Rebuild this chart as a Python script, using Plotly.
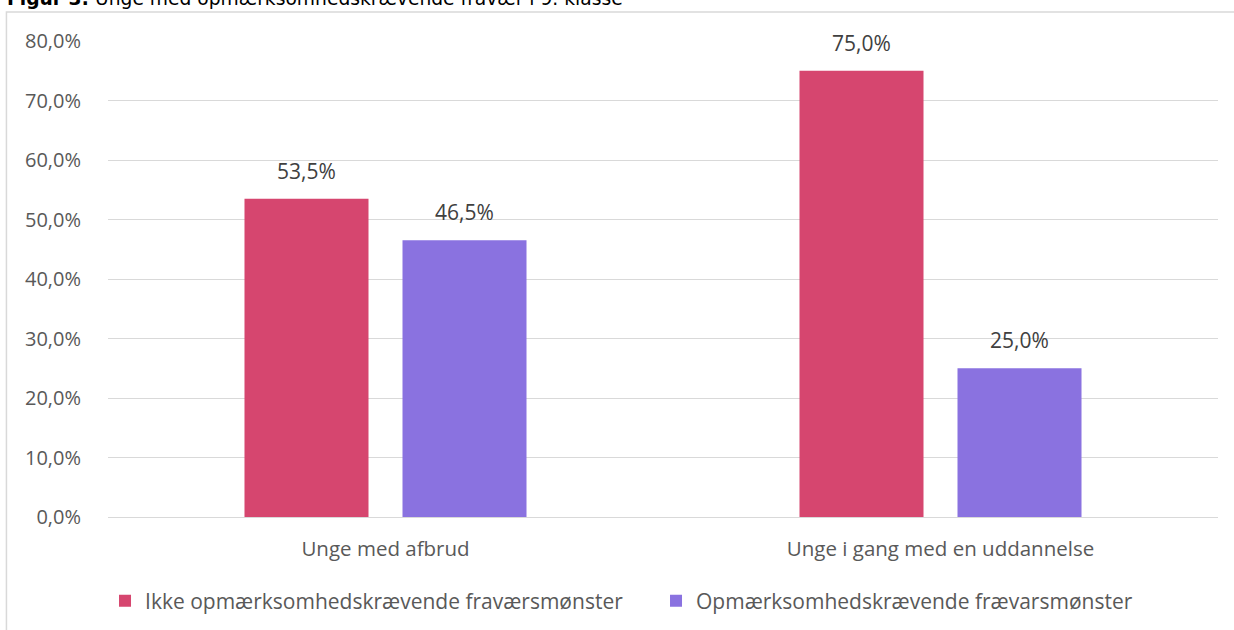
import plotly.graph_objects as go

categories = ["Unge med afbrud", "Unge i gang med en uddannelse"]
series_names = ["Ikke opmærksomhedskrævende fraværsmønster", "Opmærksomhedskrævende frævarsmønster"]
values_ikke = [53.5, 75.0]
values_opm = [46.5, 25.0]
tick_vals = [0, 10, 20, 30, 40, 50, 60, 70, 80]
tick_text = ["0,0%", "10,0%", "20,0%", "30,0%", "40,0%", "50,0%", "60,0%", "70,0%", "80,0%"]
colors = ["#D6466F", "#8A72E0"]
title_text = "<b>Figur 3:</b> Unge med opmærksomhedskrævende fravær i 9. klasse"

FONT = "Open Sans"
GRAY = "#595959"

fig = go.Figure()
for name, vals, col in [(series_names[0], values_ikke, colors[0]), (series_names[1], values_opm, colors[1])]:
    fig.add_trace(go.Bar(
        x=categories, y=vals, name=name, marker=dict(color=col, line=dict(width=0)),
        hoverinfo="skip",
    ))

# data labels
offsets = [-79, 79]
for vals, off in [(values_ikke, offsets[0]), (values_opm, offsets[1])]:
    for c, v in zip(categories, vals):
        fig.add_annotation(
            x=c, y=v, xref="x", yref="y", text=f"{v:.1f}".replace(".", ",") + "%",
            showarrow=False, xshift=off, yshift=12, yanchor="bottom",
            font=dict(family=FONT, size=21, color="#404040"),
        )

# title (cut off at top of the image)
fig.add_annotation(
    x=-0.0928, y=1.0, xref="paper", yref="paper", yshift=43,
    text=title_text, showarrow=False, xanchor="left", yanchor="middle",
    font=dict(family="DejaVu Sans", size=18.7, color="#000000"),
)

# frame
fig.add_shape(type="rect", xref="paper", yref="paper",
              x0=-0.0915, x1=1.2, y0=-0.5, y1=1.061,
              line=dict(color="#D9D9D9", width=1.5), layer="below")

fig.update_layout(
    width=1234, height=630,
    margin=dict(l=108, r=16, t=41, b=113, autoexpand=False),
    paper_bgcolor="white", plot_bgcolor="white",
    barmode="group", bargap=0.4306, bargroupgap=0.2152,
    font=dict(family=FONT, size=20, color=GRAY),
    showlegend=True,
    legend=dict(orientation="h", x=0.0851, xanchor="left", y=0.046, yanchor="middle",
                yref="container", xref="container",
                font=dict(family=FONT, size=21, color=GRAY), itemwidth=30,
                traceorder="normal", entrywidth=506, entrywidthmode="pixels"),
    xaxis=dict(showline=False, ticks="", tickfont=dict(size=20.5, color=GRAY),
               ticklabelstandoff=17),
    yaxis=dict(range=[0, 80], tickvals=tick_vals, ticktext=tick_text,
               showgrid=True, gridcolor="#D9D9D9", gridwidth=1, zeroline=True,
               zerolinecolor="#D9D9D9", zerolinewidth=1, showline=False,
               tickfont=dict(size=20, color=GRAY), ticklabelstandoff=26),
)

fig.write_html("out.html", config={"displayModeBar": False},
               post_script="document.body.style.margin='0';document.body.style.padding='0';")
